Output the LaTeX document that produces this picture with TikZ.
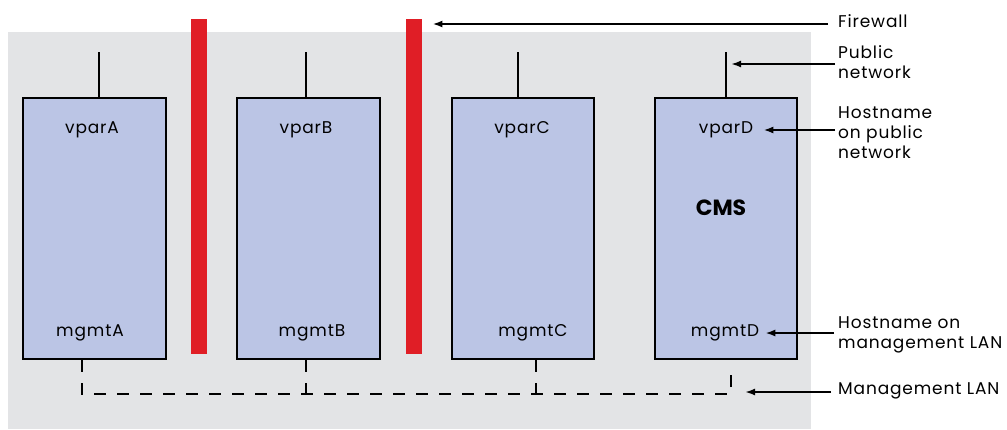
\documentclass[tikz,border=0pt]{standalone}
\usepackage{fontspec}
\setmainfont{Poppins}[LetterSpace=5]
\newfontfamily\cmsfont{Poppins}
\usetikzlibrary{arrows.meta}
\definecolor{bggray}{HTML}{E3E4E6}
\definecolor{boxblue}{HTML}{BBC5E5}
\definecolor{fwred}{HTML}{E01E26}
\begin{document}
\begin{tikzpicture}[x=1pt,y=-1pt,
  vpar/.style={draw=black,line width=2pt,fill=boxblue,minimum width=143pt,minimum height=261pt,inner sep=0pt,anchor=north west},
  fwbar/.style={fill=fwred,draw=none,minimum width=16pt,minimum height=335pt,inner sep=0pt,anchor=north west},
  txt/.style={inner sep=0pt,font=\fontsize{17}{20}\selectfont},
  cms/.style={inner sep=0pt,font=\cmsfont\fontsize{22}{26}\selectfont\bfseries},
  lbl/.style={inner sep=0pt,anchor=west,align=left,font=\fontsize{17}{20}\selectfont},
  wire/.style={line width=2pt},
  lan/.style={line width=2pt,dash pattern=on 12pt off 11pt},
  arr/.style={line width=2pt,-{Latex[length=10pt,width=7pt]}}]
\useasboundingbox (0,0) rectangle (1007,429);
\fill[bggray] (8,32) rectangle (811,429);
% firewall bars
\node[fwbar] (fw1) at (191,19) {};
\node[fwbar] (fw2) at (406,19) {};
% vpar boxes
\node[vpar] (A) at (22,97) {};
\node[vpar] (B) at (236,97) {};
\node[vpar,minimum width=142pt] (C) at (451,97) {};
\node[vpar,minimum width=142pt] (D) at (654,97) {};
% texts
\node[txt] (vA) at (92,130) {vparA};
\node[txt] (vB) at (306,130) {vparB};
\node[txt] (vC) at (522,130) {vparC};
\node[txt] (vD) at (726,130) {vparD};
\node[txt] (mA) at (90,333) {mgmtA};
\node[txt] (mB) at (312,333) {mgmtB};
\node[txt] (mC) at (533,333) {mgmtC};
\node[txt] (mD) at (725,333) {mgmtD};
\node[cms] (cms) at (721,208) {CMS};
% public network stubs
\coordinate (pA) at (99,52);
\coordinate (pB) at (306,52);
\coordinate (pC) at (518,52);
\coordinate (pD) at (726,52);
\draw[wire] (pA) -- (A.north -| pA);
\draw[wire] (pB) -- (B.north -| pB);
\draw[wire] (pC) -- (C.north -| pC);
\draw[wire] (pD) -- (D.north -| pD);
% management LAN
\coordinate (lA) at (82,394);
\coordinate (lB) at (306,394);
\coordinate (lC) at (536,394);
\coordinate (lD) at (731,394);
\coordinate (dD) at (731,364);
\draw[lan] (A.south -| lA) -- (lA) -- (lD) -- (dD);
\draw[lan] (B.south -| lB) -- (lB);
\draw[lan] (C.south -| lC) -- (lC);
% labels
\node[lbl] (lfw) at (838,21) {Firewall};
\node[lbl] (lpub) at (838,62) {Public\\network};
\node[lbl] (lhp) at (838,133) {Hostname\\on public\\network};
\node[lbl] (lhm) at (838,335) {Hostname on\\management LAN};
\node[lbl] (llan) at (838,391) {Management LAN};
% arrows
\draw[arr,shorten <=10pt,shorten >=10pt] (lfw.west |- 0,24) -- (fw2.east |- 0,24);
\draw[arr,shorten <=3pt,shorten >=5pt] (lpub.west |- 0,64) -- (pD |- 0,64);
\draw[arr,shorten <=3pt,shorten >=10pt] (lhp.west |- 0,130) -- (vD.east |- 0,130);
\draw[arr,shorten <=4pt,shorten >=6pt] (lhm.west |- 0,333) -- (mD.east |- 0,333);
\draw[arr,shorten <=7pt,shorten >=14pt] (llan.west |- 0,392) -- (lD |- 0,392);
\end{tikzpicture}
\end{document}
